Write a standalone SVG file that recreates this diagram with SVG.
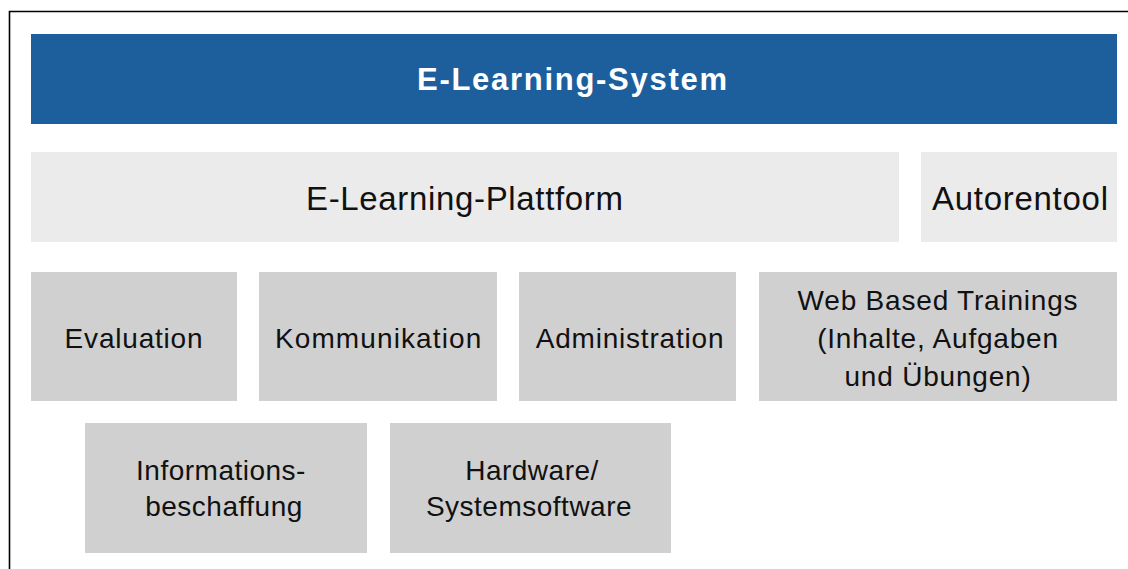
<svg xmlns="http://www.w3.org/2000/svg" width="1128" height="569" viewBox="0 0 1128 569">
<style>
.t{font-family:"Liberation Sans",Arial,sans-serif;fill:#111;text-anchor:middle}
.r2{font-size:33px}
.r3{font-size:28px;letter-spacing:0.8px}
.r4{font-size:28px;letter-spacing:0.5px}
.title{font-family:"Liberation Sans",Arial,sans-serif;font-size:31px;font-weight:bold;fill:#fff;text-anchor:middle}
.light{fill:#ebebeb}
.gray{fill:#d0d0d0}
</style>
<rect width="1128" height="569" fill="#fff"/>
<path d="M9.5,569 V11.5 H1128" fill="none" stroke="#000" stroke-width="1.6"/>
<g id="e-learning-system">
<rect x="31" y="34" width="1086" height="90" fill="#1c5f9c"/>
<text class="title" x="572" y="89.5" textLength="310" lengthAdjust="spacing">E-Learning-System</text>
</g>
<g id="e-learning-plattform">
<rect class="light" x="31" y="152" width="868" height="90"/>
<text class="t r2" x="464.5" y="209.5" textLength="317" lengthAdjust="spacing">E-Learning-Plattform</text>
</g>
<g id="autorentool">
<rect class="light" x="921" y="152" width="196" height="90"/>
<text class="t r2" x="1020" y="209.5" textLength="176" lengthAdjust="spacing">Autorentool</text>
</g>
<g id="evaluation">
<rect class="gray" x="31" y="272" width="206" height="129"/>
<text class="t r3" x="134" y="348">Evaluation</text>
</g>
<g id="kommunikation">
<rect class="gray" x="259" y="272" width="238" height="129"/>
<text class="t r3" x="378.5" y="348" textLength="207" lengthAdjust="spacing">Kommunikation</text>
</g>
<g id="administration">
<rect class="gray" x="519" y="272" width="217" height="129"/>
<text class="t r3" x="630" y="348">Administration</text>
</g>
<g id="web-based-trainings">
<rect class="gray" x="759" y="272" width="358" height="129"/>
<text class="t r3" x="938" y="310">Web Based Trainings</text>
<text class="t r3" x="938" y="348">(Inhalte, Aufgaben</text>
<text class="t r3" x="938" y="386">und Übungen)</text>
</g>
<g id="informationsbeschaffung">
<rect class="gray" x="85" y="423" width="282" height="130"/>
<text class="t r4" x="221" y="480">Informations-</text>
<text class="t r4" x="224" y="516">beschaffung</text>
</g>
<g id="hardware-systemsoftware">
<rect class="gray" x="390" y="423" width="281" height="130"/>
<text class="t r4" x="532" y="480">Hardware/</text>
<text class="t r4" x="529" y="516">Systemsoftware</text>
</g>
</svg>
